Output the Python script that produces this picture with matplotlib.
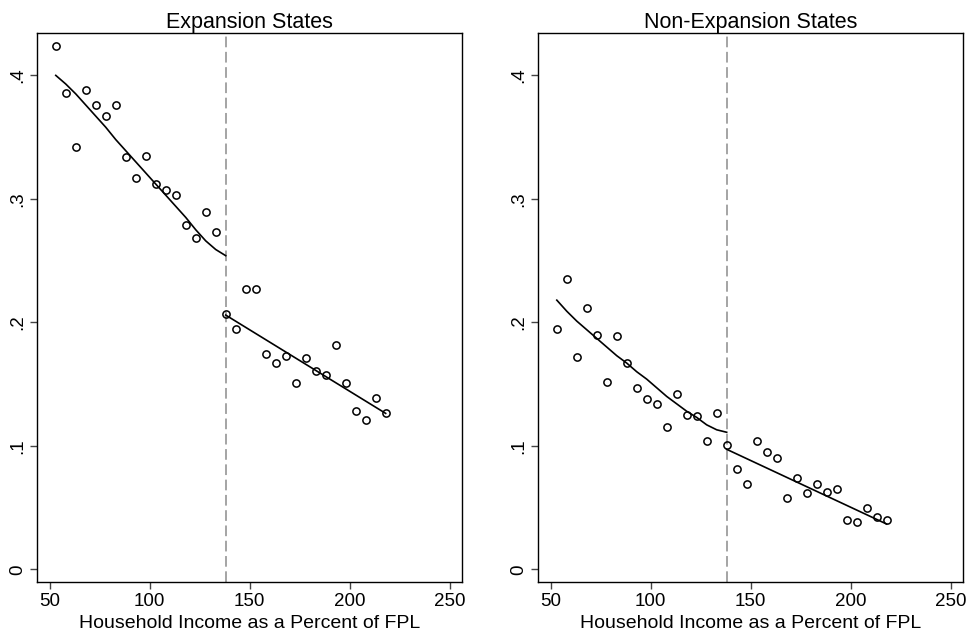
import matplotlib
matplotlib.use('Agg')
import matplotlib.pyplot as plt

plt.rcParams['font.family'] = ['Liberation Sans', 'DejaVu Sans']

# bins of household income (% of FPL)
bins_lo = [53, 58, 63, 68, 73, 78, 83, 88, 93, 98, 103, 108, 113, 118, 123, 128, 133]
bins_hi = [138, 143, 148, 153, 158, 163, 168, 173, 178, 183, 188, 193, 198, 203, 208, 213, 218]
cutoff = 138

# expansion states - binned means
exp_lo = [0.424, 0.386, 0.342, 0.388, 0.376, 0.367, 0.376, 0.334, 0.317, 0.335, 0.312,
          0.307, 0.303, 0.279, 0.268, 0.289, 0.273]
exp_hi = [0.207, 0.195, 0.227, 0.227, 0.174, 0.167, 0.173, 0.151, 0.171, 0.161, 0.157,
          0.182, 0.151, 0.128, 0.121, 0.139, 0.127]
# expansion states - fitted lines
exp_fit_lo_x = [53, 58, 63, 68, 73, 78, 83, 88, 93, 98, 103, 108, 113, 118, 123, 128, 133, 138]
exp_fit_lo = [0.400, 0.393, 0.385, 0.376, 0.367, 0.358, 0.348, 0.339, 0.330, 0.321, 0.312,
              0.303, 0.294, 0.285, 0.275, 0.266, 0.259, 0.254]
exp_fit_hi_x = [138, 218]
exp_fit_hi = [0.2059, 0.1263]

# non-expansion states - binned means
non_lo = [0.195, 0.235, 0.172, 0.212, 0.190, 0.152, 0.189, 0.167, 0.147, 0.138, 0.134,
          0.115, 0.142, 0.125, 0.124, 0.104, 0.127]
non_hi = [0.101, 0.081, 0.069, 0.104, 0.095, 0.090, 0.058, 0.074, 0.062, 0.069, 0.063,
          0.065, 0.040, 0.038, 0.050, 0.042, 0.040]
# non-expansion states - fitted lines
non_fit_lo_x = [53, 58, 63, 68, 73, 78, 83, 88, 93, 98, 103, 108, 113, 118, 123, 128, 133, 138]
non_fit_lo = [0.218, 0.209, 0.201, 0.194, 0.187, 0.180, 0.173, 0.167, 0.160, 0.154, 0.147,
              0.140, 0.134, 0.128, 0.123, 0.117, 0.113, 0.111]
non_fit_hi_x = [138, 218]
non_fit_hi = [0.0972, 0.0367]

yticks = [0, 0.1, 0.2, 0.3, 0.4]
ylabels = ['0', '.1', '.2', '.3', '.4']
xticks = [50, 100, 150, 200, 250]

fig = plt.figure(figsize=(9.68, 6.4), dpi=100)
ax1 = fig.add_axes([0.0382, 0.0911, 0.4391, 0.8573])
ax2 = fig.add_axes([0.5558, 0.0911, 0.4390, 0.8573])

panels = [
    (ax1, 'Expansion States', exp_lo, exp_hi, exp_fit_lo_x, exp_fit_lo, exp_fit_hi_x, exp_fit_hi),
    (ax2, 'Non-Expansion States', non_lo, non_hi, non_fit_lo_x, non_fit_lo, non_fit_hi_x, non_fit_hi),
]

for ax, title, ylo, yhi, fx1, fy1, fx2, fy2 in panels:
    ax.axvline(cutoff, color='#8c8c8c', lw=1.1, dashes=(7, 3), zorder=1)
    ax.plot(bins_lo + bins_hi, ylo + yhi, 'o', ms=5.2, mfc='none', mec='black', mew=1.1, zorder=3)
    ax.plot(fx1, fy1, color='black', lw=1.2, zorder=2)
    ax.plot(fx2, fy2, color='black', lw=1.2, zorder=2)
    ax.set_xlim(43.6, 256.2)
    ax.set_ylim(-0.01, 0.4343)
    ax.set_xticks(xticks)
    ax.set_yticks(yticks)
    ax.set_yticklabels(ylabels, rotation=90, va='center')
    ax.tick_params(direction='out', length=5, width=1, color='#444444', labelsize=13.5, pad=3)
    ax.set_xlabel('Household Income as a Percent of FPL', fontsize=14, labelpad=4)
    ax.set_title(title, fontsize=15.5, pad=3)
    for s in ax.spines.values():
        s.set_linewidth(1)

plt.savefig('out.png', dpi=100)
